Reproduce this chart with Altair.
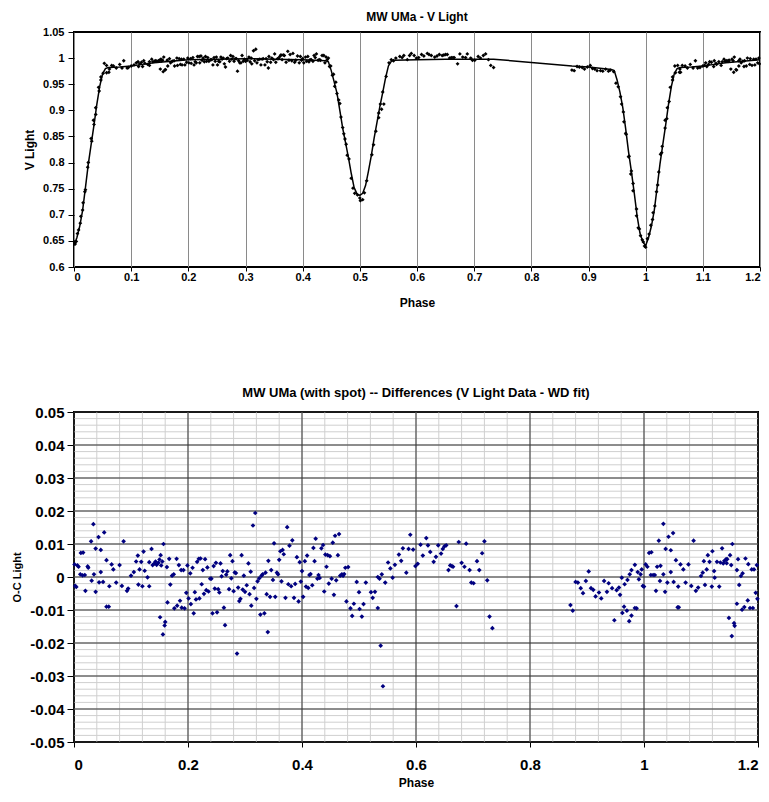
import altair as alt
import pandas as pd

FONT = "Liberation Sans"

top_title = "MW UMa - V Light"
bottom_title = "MW UMa (with spot) -- Differences (V Light Data - WD fit)"

# observation phases (shared by both panels)
phase = [
    # 0.0 - 0.1
    0.001, 0.002, 0.004, 0.006, 0.008, 0.011, 0.012, 0.015, 0.016, 0.019,
    0.020, 0.024, 0.025, 0.030, 0.031, 0.034, 0.035, 0.038, 0.038, 0.043,
    0.044, 0.047, 0.047, 0.051, 0.053, 0.057, 0.057, 0.061, 0.062, 0.066,
    0.069, 0.074, 0.080, 0.084, 0.087, 0.093, 0.095, 0.100,
    # 0.1 - 0.2
    0.105, 0.109, 0.112, 0.113, 0.115, 0.118, 0.120, 0.122, 0.124, 0.129,
    0.132, 0.132, 0.136, 0.138, 0.141, 0.143, 0.145, 0.148, 0.150, 0.151,
    0.152, 0.153, 0.155, 0.156, 0.157, 0.159, 0.160, 0.163, 0.164, 0.167,
    0.169, 0.172, 0.175, 0.176, 0.180, 0.181, 0.184, 0.186, 0.188, 0.189,
    0.192, 0.194, 0.197, 0.199,
    # 0.2 - 0.3
    0.201, 0.204, 0.205, 0.208, 0.210, 0.212, 0.214, 0.216, 0.219, 0.220,
    0.222, 0.224, 0.226, 0.228, 0.230, 0.232, 0.234, 0.236, 0.239, 0.241,
    0.243, 0.245, 0.247, 0.249, 0.251, 0.253, 0.255, 0.257, 0.259, 0.261,
    0.263, 0.265, 0.267, 0.269, 0.272, 0.274, 0.276, 0.278, 0.280, 0.282,
    0.284, 0.286, 0.288, 0.290, 0.292, 0.294, 0.296, 0.298, 0.300,
    # 0.3 - 0.4
    0.303, 0.306, 0.308, 0.310, 0.311, 0.314, 0.316, 0.318, 0.320, 0.322,
    0.325, 0.327, 0.329, 0.331, 0.334, 0.336, 0.338, 0.340, 0.341, 0.344,
    0.346, 0.349, 0.351, 0.353, 0.356, 0.358, 0.360, 0.362, 0.364, 0.366,
    0.368, 0.371, 0.374, 0.376, 0.378, 0.381, 0.383, 0.386, 0.388, 0.391,
    0.394, 0.396, 0.398, 0.400,
    # 0.4 - 0.5
    0.402, 0.405, 0.407, 0.409, 0.411, 0.413, 0.415, 0.418, 0.420, 0.422,
    0.424, 0.427, 0.429, 0.431, 0.434, 0.437, 0.439, 0.441, 0.443, 0.445,
    0.447, 0.449, 0.452, 0.454, 0.456, 0.458, 0.460, 0.463, 0.465, 0.467,
    0.470, 0.472, 0.474, 0.476, 0.478, 0.481, 0.485, 0.488, 0.491, 0.496,
    0.500,
    # 0.5 - 0.6
    0.501, 0.505, 0.508, 0.512, 0.521, 0.524, 0.528, 0.533, 0.533, 0.536,
    0.538, 0.540, 0.542, 0.546, 0.551, 0.555, 0.559, 0.563, 0.570, 0.574,
    0.577, 0.583, 0.587, 0.590, 0.595, 0.599,
    # 0.6 - 0.74
    0.603, 0.608, 0.612, 0.618, 0.621, 0.625, 0.631, 0.635, 0.639, 0.644,
    0.647, 0.650, 0.653, 0.657, 0.660, 0.663, 0.665, 0.671, 0.675, 0.680,
    0.685, 0.688, 0.694, 0.697, 0.701, 0.707, 0.711, 0.716, 0.720, 0.725,
    0.729, 0.734,
    # 0.87 - 1.0
    0.871, 0.875, 0.880, 0.884, 0.889, 0.893, 0.898, 0.903, 0.907, 0.911,
    0.915, 0.921, 0.925, 0.930, 0.935, 0.938, 0.944, 0.948, 0.952, 0.956,
    0.958, 0.961, 0.962, 0.965, 0.966, 0.970, 0.971, 0.974, 0.975, 0.978,
    0.978, 0.984, 0.984, 0.987, 0.989, 0.991, 0.994, 0.996, 0.998, 1.000,
    # 1.0 - 1.2
    1.003, 1.006, 1.009, 1.012, 1.013, 1.016, 1.019, 1.021, 1.023, 1.026,
    1.028, 1.029, 1.034, 1.034, 1.037, 1.038, 1.041, 1.043, 1.047, 1.047,
    1.051, 1.052, 1.056, 1.059, 1.060, 1.061, 1.064, 1.069, 1.073, 1.078,
    1.083, 1.087, 1.091, 1.095, 1.100, 1.103, 1.105, 1.107, 1.110, 1.112,
    1.115, 1.119, 1.120, 1.123, 1.124, 1.128, 1.132, 1.134, 1.137, 1.139,
    1.141, 1.144, 1.145, 1.146, 1.149, 1.151, 1.153, 1.154, 1.155, 1.158,
    1.159, 1.163, 1.163, 1.165, 1.167, 1.170, 1.172, 1.173, 1.176, 1.178,
    1.182, 1.183, 1.186, 1.189, 1.191, 1.193, 1.196, 1.198, 1.199,
]

# observed V light (top panel)
v_light = [
    0.648, 0.644, 0.649, 0.664, 0.671, 0.684, 0.697, 0.709, 0.723, 0.744,
    0.748, 0.791, 0.800, 0.846, 0.841, 0.881, 0.873, 0.905, 0.892, 0.944,
    0.937, 0.964, 0.958, 0.971, 0.990, 0.986, 0.972, 0.973, 0.979, 0.986,
    0.985, 0.981, 0.988, 0.981, 0.995, 0.981, 0.982, 0.985,
    0.987, 0.991, 0.993, 0.984, 0.989, 0.992, 0.984, 0.995, 0.990, 0.988,
    0.986, 0.993, 0.998, 0.993, 0.994, 0.995, 0.994, 0.995, 0.996, 0.979,
    0.998, 0.995, 0.996, 0.974, 1.002, 0.977, 0.978, 0.996, 0.985, 0.999,
    0.991, 0.994, 0.995, 0.985, 1.000, 0.986, 0.999, 0.988, 0.998, 0.987,
    0.998, 0.987, 0.992, 1.000,
    0.991, 0.999, 0.990, 1.001, 0.987, 0.993, 0.991, 1.003, 1.003, 0.991,
    1.004, 0.996, 1.000, 0.993, 1.003, 0.994, 1.001, 0.994, 0.997, 0.997,
    0.987, 1.001, 0.994, 1.002, 0.987, 0.994, 0.993, 1.002, 0.998, 1.000,
    0.989, 0.983, 0.999, 1.000, 0.994, 1.005, 0.998, 1.003, 0.994, 0.999,
    0.999, 0.975, 0.995, 0.991, 0.991, 1.005, 0.994, 0.998, 0.994,
    0.996, 1.002, 0.993, 1.000, 0.989, 1.014, 0.995, 1.017, 0.991, 0.997,
    0.998, 0.987, 0.998, 0.999, 0.987, 0.999, 0.993, 0.981, 1.003, 0.992,
    1.000, 0.997, 1.008, 0.992, 0.999, 0.999, 1.003, 1.006, 0.997, 1.006,
    1.005, 0.992, 1.013, 0.996, 1.007, 0.995, 1.009, 0.992, 0.996, 1.004,
    0.991, 1.003, 0.996, 0.999,
    0.991, 1.002, 0.994, 1.003, 0.993, 0.997, 0.997, 0.994, 1.005, 1.001,
    1.008, 0.996, 0.997, 0.996, 1.005, 1.005, 0.991, 1.002, 0.997, 1.000,
    0.984, 0.985, 0.967, 0.969, 0.946, 0.954, 0.932, 0.920, 0.913, 0.887,
    0.867, 0.855, 0.845, 0.835, 0.814, 0.807, 0.770, 0.751, 0.741, 0.738,
    0.732,
    0.727, 0.729, 0.742, 0.765, 0.815, 0.834, 0.860, 0.886, 0.895, 0.912,
    0.902, 0.935, 0.912, 0.965, 0.991, 0.997, 0.995, 1.000, 1.003, 1.001,
    1.005, 0.997, 1.005, 1.009, 1.005, 1.000,
    1.001, 1.007, 1.004, 1.009, 1.007, 1.005, 1.002, 1.004, 1.007, 1.005,
    1.006, 1.007, 1.007, 1.000, 1.001, 1.001, 1.001, 0.989, 1.008, 1.002,
    1.001, 1.008, 1.000, 0.996, 0.996, 1.003, 1.000, 1.005, 1.008, 0.997,
    0.986, 0.982,
    0.977, 0.976, 0.984, 0.983, 0.982, 0.979, 0.983, 0.986, 0.980, 0.979,
    0.976, 0.976, 0.975, 0.979, 0.975, 0.977, 0.974, 0.952, 0.945, 0.926,
    0.912, 0.897, 0.878, 0.856, 0.854, 0.811, 0.812, 0.778, 0.784, 0.746,
    0.760, 0.711, 0.698, 0.675, 0.673, 0.660, 0.652, 0.648, 0.640, 0.638,
    0.654, 0.663, 0.680, 0.691, 0.704, 0.717, 0.744, 0.757, 0.782, 0.816,
    0.819, 0.831, 0.881, 0.866, 0.884, 0.905, 0.917, 0.944, 0.964, 0.958,
    0.985, 0.972, 0.986, 0.973, 0.979, 0.973, 0.986, 0.985, 0.981, 0.988,
    0.981, 0.995, 0.981, 0.982, 0.985, 0.986, 0.991, 0.984, 0.988, 0.993,
    0.992, 0.984, 0.995, 0.990, 0.988, 0.993, 0.986, 0.993, 0.998, 0.994,
    0.995, 0.995, 0.994, 0.996, 0.979, 0.998, 0.995, 0.973, 1.002, 0.978,
    0.977, 0.995, 0.985, 0.998, 0.991, 0.994, 0.984, 0.995, 0.985, 1.000,
    0.988, 0.999, 0.986, 0.998, 0.987, 0.998, 0.991, 1.000, 0.989,
]

# O-C residuals (bottom panel)
oc_light = [
    0.0038, -0.0027, -0.0030, 0.0035, 0.0031, 0.0008, 0.0073, 0.0005, 0.0074, 0.0006,
    -0.0042, 0.0032, 0.0028, 0.0108, -0.0011, 0.0160, 0.0008, 0.0086, -0.0045, 0.0121,
    -0.0016, 0.0082, 0.0015, -0.0015, 0.0135, 0.0051, -0.0090, -0.0090, -0.0028, 0.0038,
    0.0023, -0.0017, 0.0036, -0.0027, 0.0108, -0.0042, -0.0035, 0.0004,
    0.0015, 0.0047, 0.0065, -0.0023, 0.0023, 0.0046, -0.0028, 0.0077, 0.0019, -0.0001,
    -0.0028, 0.0045, 0.0085, 0.0036, 0.0041, 0.0047, 0.0037, 0.0043, 0.0053, -0.0122,
    0.0066, 0.0035, 0.0047, -0.0174, 0.0100, -0.0147, -0.0136, 0.0030, -0.0077, 0.0055,
    -0.0023, 0.0004, 0.0008, -0.0095, 0.0055, -0.0087, 0.0036, -0.0072, 0.0021, -0.0093,
    0.0021, -0.0095, -0.0048, 0.0035,
    -0.0065, 0.0011, -0.0082, 0.0028, -0.0110, -0.0046, -0.0068, 0.0046, 0.0055, -0.0065,
    0.0056, -0.0022, 0.0021, -0.0051, 0.0054, -0.0040, 0.0029, -0.0044, -0.0005, -0.0005,
    -0.0110, 0.0033, -0.0035, 0.0043, -0.0107, -0.0037, -0.0047, 0.0041, 0.0002, 0.0018,
    -0.0093, -0.0146, 0.0007, 0.0017, -0.0037, 0.0066, -0.0004, 0.0048, -0.0043, 0.0014,
    0.0012, -0.0232, -0.0032, -0.0073, -0.0066, 0.0066, -0.0038, 0.0004, -0.0045,
    -0.0025, 0.0041, -0.0052, 0.0016, -0.0087, 0.0156, -0.0033, 0.0194, -0.0066, -0.0013,
    -0.0004, -0.0114, 0.0004, 0.0008, -0.0110, 0.0013, -0.0052, -0.0167, 0.0049, -0.0060,
    0.0021, -0.0009, 0.0102, -0.0060, 0.0013, 0.0008, 0.0052, 0.0078, -0.0013, 0.0082,
    0.0069, -0.0063, 0.0151, -0.0022, 0.0095, -0.0028, 0.0111, -0.0063, -0.0021, 0.0060,
    -0.0074, 0.0045, -0.0014, 0.0018,
    -0.0060, 0.0048, -0.0029, 0.0065, -0.0033, 0.0006, 0.0009, -0.0025, 0.0088, 0.0048,
    0.0116, -0.0005, 0.0006, -0.0003, 0.0087, 0.0097, -0.0044, 0.0068, 0.0031, 0.0066,
    -0.0020, 0.0063, -0.0005, 0.0104, -0.0054, 0.0125, -0.0010, 0.0066, 0.0130, 0.0004,
    0.0008, 0.0004, 0.0009, 0.0028, -0.0074, 0.0030, -0.0095, -0.0118, -0.0081, -0.0015,
    -0.0046,
    -0.0097, -0.0120, -0.0082, -0.0017, -0.0046, -0.0063, -0.0045, -0.0094, 0.0000, -0.0005,
    -0.0208, 0.0008, -0.0331, -0.0017, 0.0044, 0.0026, -0.0002, 0.0037, 0.0068, 0.0049,
    0.0087, 0.0013, 0.0085, 0.0128, 0.0083, 0.0033,
    0.0040, 0.0098, 0.0065, 0.0118, 0.0096, 0.0076, 0.0046, 0.0061, 0.0096, 0.0071,
    0.0085, 0.0093, 0.0096, 0.0021, 0.0035, 0.0033, 0.0031, -0.0088, 0.0106, 0.0043,
    0.0031, 0.0101, 0.0021, -0.0017, -0.0019, 0.0048, 0.0021, 0.0072, 0.0108, -0.0010,
    -0.0120, -0.0155,
    -0.0085, -0.0102, -0.0015, -0.0017, -0.0034, -0.0049, -0.0012, 0.0017, -0.0034, -0.0039,
    -0.0059, -0.0047, -0.0065, -0.0012, -0.0045, -0.0019, -0.0034, -0.0131, -0.0040, -0.0032,
    -0.0054, -0.0002, -0.0109, -0.0090, -0.0022, -0.0102, -0.0009, -0.0134, 0.0008, -0.0117,
    0.0021, 0.0037, -0.0094, -0.0095, 0.0015, -0.0007, 0.0008, 0.0023, -0.0027, -0.0029,
    0.0038, 0.0031, 0.0073, 0.0006, 0.0075, 0.0006, 0.0006, -0.0042, 0.0031, 0.0110,
    -0.0012, 0.0034, 0.0161, 0.0008, -0.0045, 0.0085, -0.0017, 0.0122, 0.0081, 0.0015,
    0.0133, -0.0015, 0.0051, -0.0092, -0.0029, -0.0092, 0.0038, 0.0023, -0.0017, 0.0038,
    -0.0027, 0.0110, -0.0042, -0.0032, 0.0003, 0.0013, 0.0048, -0.0024, 0.0023, 0.0066,
    0.0046, -0.0029, 0.0078, 0.0018, -0.0002, 0.0046, -0.0029, 0.0044, 0.0087, 0.0041,
    0.0049, 0.0054, 0.0042, 0.0054, -0.0124, 0.0066, 0.0036, -0.0179, 0.0100, -0.0140,
    -0.0148, 0.0021, -0.0081, 0.0054, -0.0024, 0.0003, -0.0099, 0.0011, -0.0091, 0.0056,
    -0.0071, 0.0039, -0.0094, 0.0023, -0.0094, 0.0023, -0.0048, 0.0036, -0.0066,
]

# WD model fit curve (top panel line)
fit_phase = [
    0.000, 0.005, 0.010, 0.015, 0.020, 0.025, 0.030, 0.035, 0.040, 0.045,
    0.050, 0.055, 0.060, 0.080, 0.100, 0.120, 0.140, 0.160, 0.180, 0.200,
    0.250, 0.300, 0.350, 0.400, 0.440, 0.445, 0.450, 0.455, 0.460, 0.465,
    0.470, 0.475, 0.480, 0.485, 0.490, 0.495, 0.500, 0.505, 0.510, 0.515,
    0.520, 0.525, 0.530, 0.535, 0.540, 0.545, 0.550, 0.555, 0.560, 0.600,
    0.650, 0.700, 0.734, 0.871, 0.900, 0.940, 0.945, 0.950, 0.955, 0.960,
    0.965, 0.970, 0.975, 0.980, 0.985, 0.990, 0.995, 1.000, 1.005, 1.010,
    1.015, 1.020, 1.025, 1.030, 1.035, 1.040, 1.045, 1.050, 1.055, 1.060,
    1.080, 1.100, 1.120, 1.140, 1.160, 1.180, 1.200,
]
fit_v = [
    0.641, 0.656, 0.678, 0.708, 0.752, 0.797, 0.835, 0.872, 0.912, 0.946,
    0.970, 0.980, 0.982, 0.983, 0.985, 0.988, 0.991, 0.993, 0.995, 0.997,
    0.998, 0.999, 0.998, 0.997, 0.995, 0.993, 0.976, 0.955, 0.933, 0.900,
    0.866, 0.838, 0.810, 0.779, 0.752, 0.740, 0.737, 0.741, 0.756, 0.783,
    0.813, 0.847, 0.877, 0.907, 0.934, 0.962, 0.985, 0.994, 0.996, 0.997,
    0.998, 0.998, 0.998, 0.985, 0.983, 0.978, 0.976, 0.958, 0.935, 0.905,
    0.865, 0.821, 0.783, 0.742, 0.698, 0.665, 0.648, 0.641, 0.656, 0.678,
    0.708, 0.752, 0.797, 0.835, 0.872, 0.912, 0.946, 0.970, 0.980, 0.982,
    0.983, 0.985, 0.988, 0.991, 0.993, 0.995, 0.997,
]

# axis tick values
top_x_ticks = [0.0, 0.1, 0.2, 0.3, 0.4, 0.5, 0.6, 0.7, 0.8, 0.9, 1.0, 1.1, 1.2]
top_y_ticks = [0.6, 0.65, 0.7, 0.75, 0.8, 0.85, 0.9, 0.95, 1.0, 1.05]
bot_x_ticks = [0.0, 0.2, 0.4, 0.6, 0.8, 1.0, 1.2]
bot_y_ticks = [-0.05, -0.04, -0.03, -0.02, -0.01, 0.0, 0.01, 0.02, 0.03, 0.04, 0.05]
bot_x_minor = [round(i * 0.04, 2) for i in range(1, 30)]
bot_y_minor = [round(-0.05 + i * 0.002, 3) for i in range(1, 50)]

label_expr = "datum.value < 0 ? '-' + format(-datum.value, '~g') : format(datum.value, '~g')"

obs = pd.DataFrame({"Phase": phase, "V": v_light, "OC": oc_light})
fit = pd.DataFrame({"Phase": fit_phase, "V": fit_v})

# ---------------- top panel ----------------
xs_t = alt.Scale(domain=[0, 1.2], nice=False, zero=False)
ys_t = alt.Scale(domain=[0.6, 1.05], nice=False, zero=False)

top_x_axis = alt.Axis(
    values=top_x_ticks, labelExpr=label_expr, title="Phase",
    grid=True, gridColor="#8a8a8a", gridWidth=1, labelOverlap=False,
    labelFontSize=11, titleFontSize=12, tickSize=4, labelPadding=0,
    titlePadding=15, domain=False)
top_y_axis = alt.Axis(
    values=top_y_ticks, labelExpr=label_expr, title="V Light",
    grid=False, labelOverlap=False, labelFontSize=11, titleFontSize=12,
    tickSize=6, labelPadding=4, titlePadding=6, domain=False)

top_pts = alt.Chart(obs).mark_point(
    shape="diamond", filled=True, size=15, color="black", opacity=1
).encode(
    x=alt.X("Phase:Q", scale=xs_t, axis=top_x_axis),
    y=alt.Y("V:Q", scale=ys_t, axis=top_y_axis),
)
top_line = alt.Chart(fit).mark_line(color="black", strokeWidth=1.5).encode(
    x=alt.X("Phase:Q", scale=xs_t, axis=top_x_axis),
    y=alt.Y("V:Q", scale=ys_t, axis=top_y_axis),
)
top = alt.layer(top_pts, top_line).properties(
    width=686, height=235,
    title=alt.TitleParams(top_title, fontSize=12, font=FONT, fontWeight="bold",
                          color="black", offset=2),
)

# ---------------- bottom panel ----------------
xs_b = alt.Scale(domain=[0, 1.2], nice=False, zero=False)
ys_b = alt.Scale(domain=[-0.05, 0.05], nice=False, zero=False)

bot_x_axis = alt.Axis(
    values=bot_x_ticks, labelExpr=label_expr, title="Phase", grid=False,
    labelOverlap=False, labelFontSize=15, titleFontSize=12, tickSize=5,
    labelPadding=10, titlePadding=5, domain=False)
bot_y_axis = alt.Axis(
    values=bot_y_ticks, labelExpr=label_expr, title="O-C Light", grid=False,
    labelOverlap=False, labelFontSize=15, titleFontSize=11, tickSize=7,
    labelPadding=3, titlePadding=7, domain=False)

minor_x = alt.Chart(pd.DataFrame({"Phase": bot_x_minor})).mark_rule(
    color="#cfcfcf", strokeWidth=1).encode(x=alt.X("Phase:Q", scale=xs_b, axis=bot_x_axis))
minor_y = alt.Chart(pd.DataFrame({"OC": bot_y_minor})).mark_rule(
    color="#cfcfcf", strokeWidth=1).encode(y=alt.Y("OC:Q", scale=ys_b, axis=bot_y_axis))
major_x = alt.Chart(pd.DataFrame({"Phase": bot_x_ticks})).mark_rule(
    color="#333333", strokeWidth=1).encode(x=alt.X("Phase:Q", scale=xs_b, axis=bot_x_axis))
major_y = alt.Chart(pd.DataFrame({"OC": bot_y_ticks})).mark_rule(
    color="#333333", strokeWidth=1).encode(y=alt.Y("OC:Q", scale=ys_b, axis=bot_y_axis))

bot_pts = alt.Chart(obs).mark_point(
    shape="diamond", filled=True, size=22, color="#000080", opacity=1
).encode(
    x=alt.X("Phase:Q", scale=xs_b, axis=bot_x_axis),
    y=alt.Y("OC:Q", scale=ys_b, axis=bot_y_axis),
)
bottom = alt.layer(minor_x, minor_y, major_x, major_y, bot_pts).properties(
    width=684, height=330,
    title=alt.TitleParams(bottom_title, fontSize=13, font=FONT, fontWeight="bold",
                          color="black", offset=5),
)

chart = alt.vconcat(top, bottom, spacing=77).properties(
    padding={"left": 2, "top": 2, "right": -3, "bottom": 0}
).configure_view(
    stroke="black", strokeWidth=2
).configure_axis(
    labelFont=FONT, titleFont=FONT, labelFontWeight="bold", titleFontWeight="bold",
    labelColor="black", titleColor="black", tickColor="black",
).configure_title(anchor="middle")

chart.save("out.html", embed_options={"renderer": "svg", "actions": False})
